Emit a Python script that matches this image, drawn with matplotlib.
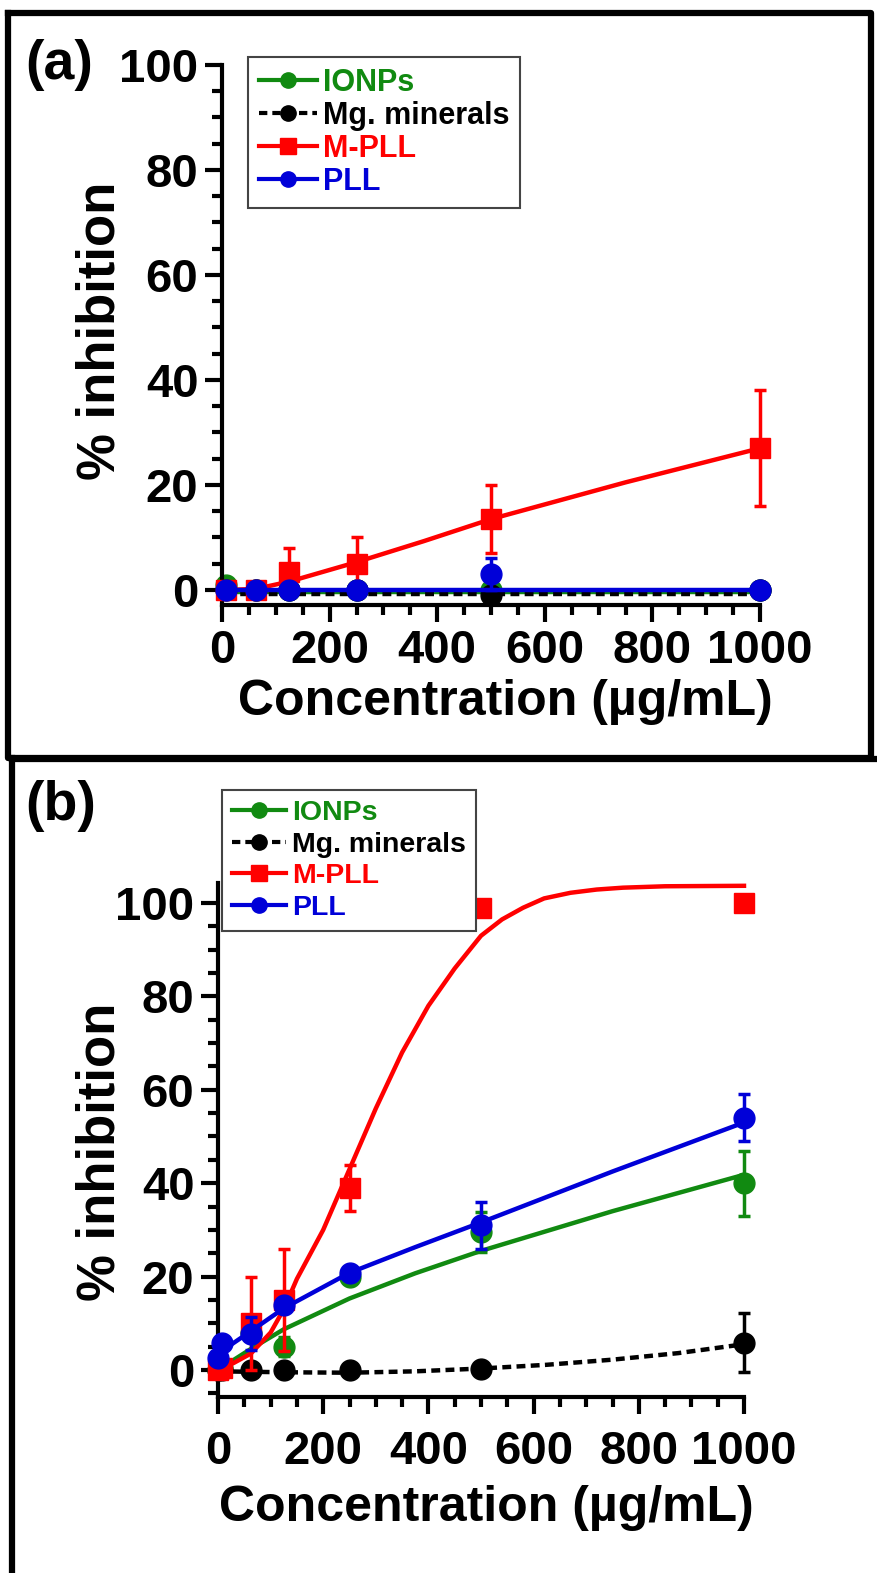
import matplotlib
matplotlib.use('Agg')
import matplotlib.pyplot as plt
from matplotlib.lines import Line2D
from matplotlib.ticker import MultipleLocator
from matplotlib import font_manager

plt.rcParams['font.family'] = ['Liberation Sans', 'DejaVu Sans']
plt.rcParams['font.weight'] = 'bold'

# tick numbers in the original look condensed
_names = {f.name for f in font_manager.fontManager.ttflist}
NARROW = 'Liberation Sans Narrow' if 'Liberation Sans Narrow' in _names else 'Liberation Sans'
TICK_SIZE = 40 if NARROW == 'Liberation Sans Narrow' else 34

# colours of the four samples
GREEN = '#118a11'
RED = '#ff0000'
BLUE = '#0000d8'
BLACK = '#000000'

# ---- panel (a) data ----
conc_a = [7.8, 62.5, 125, 250, 500, 1000]
ionps_a = [1, 0, 0, 0, 0, 0]
ionps_a_err = [0, 0, 0, 0, 0, 0]
mg_a = [0, 0, 0, 0, -1, 0]
mg_a_err = [0, 0, 0, 0, 0, 0]
mpll_a = [0, 0, 3.5, 5, 13.5, 27]
mpll_a_err = [0, 0, 4.5, 5, 6.5, 11]
pll_a = [0, 0, 0, 0, 3, 0]
pll_a_err = [0, 0, 0, 0, 3, 0]

# fitted curves
fit_a_x = [7.8, 62.5, 125, 250, 375, 500, 750, 1000]
fit_a_mpll = [0, 0.2, 1.6, 5.3, 9.3, 13.5, 20.5, 27]
fit_a_pll = [0, 0, 0, 0, 0, 0, 0, 0]
fit_a_ionps = [-0.3, -0.3, -0.3, -0.3, -0.3, -0.3, -0.3, -0.3]
fit_a_mg = [-0.8, -0.8, -0.8, -0.8, -0.8, -0.8, -0.8, -0.8]

# ---- panel (b) data ----
conc_b = [0, 7.8, 62.5, 125, 250, 500, 1000]
ionps_b = [0, 0.5, 8, 5, 20, 29.5, 40]
ionps_b_err = [0, 0, 0, 2, 0.8, 4.3, 7]
mg_b = [0, 0, 0, 0, 0, 0.3, 5.8]
mg_b_err = [0, 0, 0, 0, 0, 0.5, 6.3]
mpll_b = [0, 0.5, 10, 15, 39, 99, 100]
mpll_b_err = [0, 0, 10, 11, 5, 0, 0]
pll_b = [2.6, 5.8, 7.8, 13.8, 20.7, 31, 54]
pll_b_err = [0, 0, 3.5, 0, 0, 5, 5]

# fitted curves
fit_b_mpll_x = [0, 30, 62.5, 100, 125, 150, 200, 250, 300, 350, 400, 425, 450, 475, 500,
                540, 580, 620, 670, 720, 770, 850, 1000]
fit_b_mpll = [0, 1.5, 3.5, 8, 13, 19.5, 30, 43, 56, 68, 78, 82, 86, 89.5, 93,
              96.5, 99, 101, 102.2, 102.9, 103.3, 103.6, 103.7]
fit_b_x = [0, 62.5, 125, 250, 375, 500, 750, 1000]
fit_b_pll = [3.5, 8.3, 13.2, 20.8, 26.3, 31.6, 42.5, 53]
fit_b_ionps = [0, 4.5, 8.7, 15.3, 20.7, 25.5, 34, 41.8]
fit_b_mg_x = [0, 125, 250, 375, 500, 625, 750, 875, 1000]
fit_b_mg = [-0.3, -0.5, -0.6, -0.3, 0.3, 1.1, 2.2, 3.6, 5.5]

labels = ['IONPs', 'Mg. minerals', 'M-PLL', 'PLL']

W, H = 877, 1573
fig = plt.figure(figsize=(W / 100, H / 100), dpi=100)


def px_axes(left, top, right, bottom):
    return fig.add_axes([left / W, 1 - bottom / H, (right - left) / W, (bottom - top) / H])


def style_axes(ax, ylim, pad_x):
    ax.set_xlim(0, 1000)
    ax.set_ylim(*ylim)
    for s in ['top', 'right']:
        ax.spines[s].set_visible(False)
    for s in ['left', 'bottom']:
        ax.spines[s].set_linewidth(3)
    ax.xaxis.set_major_locator(MultipleLocator(200))
    ax.xaxis.set_minor_locator(MultipleLocator(50))
    ax.yaxis.set_major_locator(MultipleLocator(20))
    ax.yaxis.set_minor_locator(MultipleLocator(5))
    ax.tick_params(which='major', length=12, width=3, pad=5)
    ax.tick_params(axis='x', which='major', pad=pad_x)
    ax.tick_params(which='minor', length=7, width=3)
    for t in ax.get_xticklabels() + ax.get_yticklabels():
        t.set_fontfamily(NARROW)
        t.set_fontsize(TICK_SIZE)
        t.set_fontweight('bold')


def draw_series(ax, x, y, err, fx, fy, color, marker, ms, ls, z):
    ax.plot(fx, fy, color=color, lw=3.2, ls=ls, zorder=z, clip_on=False)
    ax.errorbar(x, y, yerr=err, fmt='none', ecolor=color, elinewidth=2.5,
                capsize=4, capthick=2.5, zorder=z, clip_on=False)
    ax.plot(x, y, ls='none', marker=marker, ms=ms, color=color, zorder=z + 0.5, clip_on=False)


def add_legend(ax, x0, y0, size, spacing):
    handles = [
        Line2D([], [], color=GREEN, lw=3, marker='o', ms=11),
        Line2D([], [], color=BLACK, lw=3, ls=(0, (2, 1.2)), marker='o', ms=11),
        Line2D([], [], color=RED, lw=3, marker='s', ms=11),
        Line2D([], [], color=BLUE, lw=3, marker='o', ms=11),
    ]
    leg = ax.legend(handles, labels, loc='upper left', bbox_to_anchor=(x0 / W, 1 - y0 / H),
                    bbox_transform=fig.transFigure, fontsize=size, handlelength=1.9,
                    handletextpad=0.2, labelspacing=spacing, borderpad=0.35, borderaxespad=0,
                    fancybox=False, framealpha=1, edgecolor='#444444')
    leg.get_frame().set_linewidth(1.5)
    for txt, c in zip(leg.get_texts(), [GREEN, BLACK, RED, BLUE]):
        txt.set_color(c)
        txt.set_fontweight('bold')


# ---- panel (a) ----
ax_a = px_axes(222, 65, 760, 605)
style_axes(ax_a, (-2.86, 100), 5)
draw_series(ax_a, conc_a, ionps_a, ionps_a_err, fit_a_x, fit_a_ionps, GREEN, 'o', 15, '-', 2)
draw_series(ax_a, conc_a, mg_a, mg_a_err, fit_a_x, fit_a_mg, BLACK, 'o', 15, (0, (2, 1.2)), 3)
draw_series(ax_a, conc_a, mpll_a, mpll_a_err, fit_a_x, fit_a_mpll, RED, 's', 15, '-', 4)
draw_series(ax_a, conc_a, pll_a, pll_a_err, fit_a_x, fit_a_pll, BLUE, 'o', 15, '-', 5)
add_legend(ax_a, 248, 57, 22, 0.1)

# ---- panel (b) ----
ax_b = px_axes(218, 883, 744, 1397)
style_axes(ax_b, (-5.8, 104.3), 12)
draw_series(ax_b, conc_b, ionps_b, ionps_b_err, fit_b_x, fit_b_ionps, GREEN, 'o', 15, '-', 2)
draw_series(ax_b, conc_b, mg_b, mg_b_err, fit_b_mg_x, fit_b_mg, BLACK, 'o', 15, (0, (2, 1.2)), 3)
draw_series(ax_b, conc_b, mpll_b, mpll_b_err, fit_b_mpll_x, fit_b_mpll, RED, 's', 15, '-', 4)
draw_series(ax_b, conc_b, pll_b, pll_b_err, fit_b_x, fit_b_pll, BLUE, 'o', 15, '-', 5)
add_legend(ax_b, 222, 790, 20.5, 0.2)

# axis titles
for xc, yc in [(505, 702), (486, 1508)]:
    fig.text(xc / W, 1 - yc / H, 'Concentration (µg/mL)', fontsize=36, fontweight='bold',
             ha='center', va='center')
for xc, yc in [(101, 331), (101, 1152)]:
    fig.text(xc / W, 1 - yc / H, '% inhibition', fontsize=38, fontweight='bold',
             ha='center', va='center', rotation=90)

# panel letters
fig.text(25 / W, 1 - 65 / H, '(a)', fontsize=40, fontweight='bold', va='center', ha='left')
fig.text(25 / W, 1 - 806 / H, '(b)', fontsize=40, fontweight='bold', va='center', ha='left')


# panel borders
def fig_line(xs, ys):
    fig.add_artist(Line2D([x / W for x in xs], [1 - y / H for y in ys], color='black', lw=4.5,
                          solid_capstyle='projecting'))


fig_line([8, 871, 871, 8, 8], [13, 13, 758, 758, 13])
fig_line([12, 12], [758, 1573])
fig_line([12, 877], [759, 759])

fig.savefig('out.png', dpi=100)
